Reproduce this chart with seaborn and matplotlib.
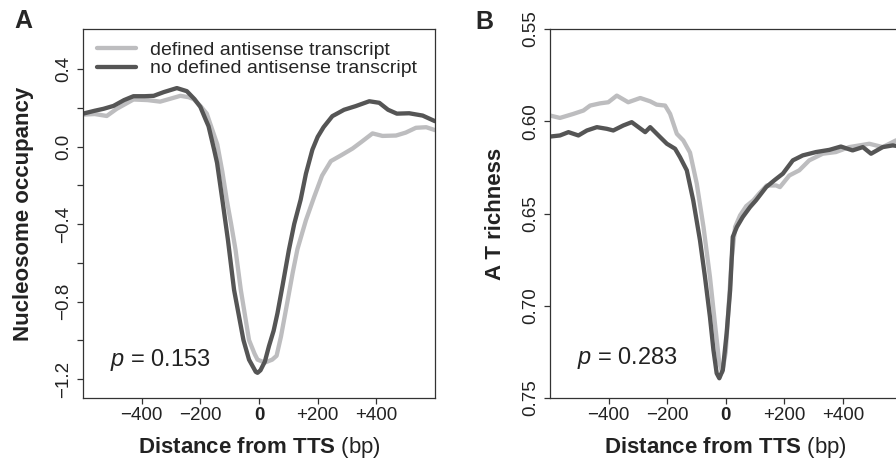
import numpy as np
import pandas as pd
import seaborn as sns
import matplotlib.pyplot as plt

# ---- panel A: nucleosome occupancy around the TTS ----
a_light_x = [-600, -560, -519, -485, -428, -380, -337, -300, -268, -240, -223, -200, -178, -160,
             -142, -125, -110, -95, -80, -62, -34, -15, -5, 20, 45, 60, 75, 97, 115, 131, 160,
             188, 215, 245, 280, 319, 350, 387, 421, 467, 500, 535, 570, 600]
a_light_y = [0.165, 0.168, 0.158, 0.195, 0.243, 0.240, 0.232, 0.248, 0.262, 0.255, 0.245, 0.210,
             0.170, 0.090, 0.010, -0.130, -0.274, -0.400, -0.533, -0.740, -0.999, -1.070, -1.100,
             -1.115, -1.100, -1.080, -0.980, -0.800, -0.650, -0.530, -0.380, -0.260, -0.150,
             -0.075, -0.045, -0.010, 0.025, 0.068, 0.055, 0.057, 0.072, 0.097, 0.100, 0.085]

a_dark_x = [-600, -560, -530, -496, -460, -428, -390, -359, -325, -280, -246, -220, -200, -182,
            -172, -153, -143, -125, -106, -85, -53, -34, -11, -5, 5, 20, 34, 50, 63, 80, 102,
            120, 142, 160, 182, 200, 220, 250, 290, 330, 376, 410, 440, 470, 512, 558, 600]
a_dark_y = [0.170, 0.185, 0.195, 0.210, 0.240, 0.260, 0.260, 0.262, 0.281, 0.302, 0.286, 0.245,
            0.205, 0.140, 0.105, -0.016, -0.084, -0.274, -0.481, -0.740, -0.999, -1.100, -1.163,
            -1.168, -1.155, -1.110, -1.030, -0.950, -0.860, -0.720, -0.533, -0.400, -0.274,
            -0.140, -0.016, 0.050, 0.100, 0.157, 0.190, 0.209, 0.234, 0.226, 0.190, 0.170,
            0.172, 0.160, 0.131]

# ---- panel B: AT richness around the TTS ----
b_light_x = [-600, -566, -520, -486, -463, -429, -401, -372, -333, -292, -258, -236, -207, -190,
             -167, -145, -122, -99, -76, -54, -37, -22, -12, 0, 10, 20, 32, 49, 70, 94, 115, 140,
             172, 185, 217, 251, 285, 331, 376, 422, 490, 536, 581, 600]
b_light_y = [0.5969, 0.5982, 0.5960, 0.5942, 0.5915, 0.5903, 0.5897, 0.5861, 0.5897, 0.5874,
             0.5892, 0.5910, 0.5915, 0.5960, 0.6068, 0.6104, 0.6170, 0.6338, 0.6573, 0.6843,
             0.7095, 0.7311, 0.7360, 0.7250, 0.7000, 0.6750, 0.6573, 0.6510, 0.6460, 0.6429,
             0.6390, 0.6348, 0.6348, 0.6357, 0.6294, 0.6266, 0.6212, 0.6176, 0.6167, 0.6140,
             0.6122, 0.6140, 0.6104, 0.6100]

b_dark_x = [-600, -566, -537, -503, -474, -440, -406, -384, -350, -321, -298, -275, -258, -224,
            -201, -173, -156, -133, -111, -88, -71, -54, -42, -31, -22, -10, 3, 15, 24, 38, 58,
            83, 103, 138, 166, 195, 229, 263, 308, 354, 393, 433, 468, 496, 536, 570, 600]
b_dark_y = [0.6083, 0.6077, 0.6059, 0.6077, 0.6050, 0.6032, 0.6041, 0.6050, 0.6023, 0.6005,
            0.6032, 0.6059, 0.6032, 0.6086, 0.6122, 0.6149, 0.6195, 0.6266, 0.6429, 0.6645,
            0.6843, 0.7060, 0.7240, 0.7366, 0.7393, 0.7348, 0.7150, 0.6915, 0.6627, 0.6573,
            0.6519, 0.6465, 0.6429, 0.6357, 0.6320, 0.6284, 0.6212, 0.6185, 0.6167, 0.6155,
            0.6137, 0.6158, 0.6140, 0.6176, 0.6140, 0.6131, 0.6137]

groups = ["defined antisense transcript", "no defined antisense transcript"]
colors = {groups[0]: "#bdbdbf", groups[1]: "#555555"}

x_ticks = [-400, -200, 0, 200, 400]
x_labels = ["\u2212400", "\u2212200", "0", "+200", "+400"]
a_yticks = [-1.2, -1.0, -0.8, -0.6, -0.4, -0.2, 0.0, 0.2, 0.4]
a_ylabels = ["\u22121.2", "", "\u22120.8", "", "\u22120.4", "", "0.0", "", "0.4"]
b_yticks = [0.55, 0.60, 0.65, 0.70, 0.75]
b_ylabels = ["0.55", "0.60", "0.65", "0.70", "0.75"]


def long_df(lx, ly, dx, dy):
    d1 = pd.DataFrame({"pos": lx, "value": ly, "group": groups[0]})
    d2 = pd.DataFrame({"pos": dx, "value": dy, "group": groups[1]})
    return pd.concat([d1, d2], ignore_index=True)


df_a = long_df(a_light_x, a_light_y, a_dark_x, a_dark_y)
df_b = long_df(b_light_x, b_light_y, b_dark_x, b_dark_y)

sns.set_style("ticks")
plt.rcParams["font.family"] = ["Liberation Sans", "DejaVu Sans"]
plt.rcParams["mathtext.fontset"] = "custom"
plt.rcParams["mathtext.rm"] = "Liberation Sans"
plt.rcParams["mathtext.bf"] = "Liberation Sans:bold"
plt.rcParams["mathtext.it"] = "Liberation Sans:italic"

W, H = 896, 461
fig = plt.figure(figsize=(W / 100, H / 100), dpi=100)
axA = fig.add_axes([83 / W, 1 - 398 / H, 352 / W, 369 / H])
axB = fig.add_axes([550 / W, 1 - 398 / H, 351.5 / W, 369 / H])

for ax, df in [(axA, df_a), (axB, df_b)]:
    sns.lineplot(data=df, x="pos", y="value", hue="group", hue_order=groups,
                 palette=colors, linewidth=3.1, estimator=None, ax=ax,
                 solid_joinstyle="round", solid_capstyle="round")
    ax.set_xlim(-600, 600)
    ax.set_xticks(x_ticks)
    ax.set_xticklabels(x_labels)
    ax.get_xticklabels()[2].set_fontweight("bold")
    for s in ax.spines.values():
        s.set_visible(True)
        s.set_color("#333333")
        s.set_linewidth(0.9)
    ax.tick_params(axis="both", length=4.5, width=0.9, color="#333333",
                   labelsize=13.5, labelcolor="#222222")
    ax.tick_params(axis="x", pad=2)
    ax.tick_params(axis="y", pad=3.5)
    ax.set_xlabel(r"$\mathbf{Distance\ from\ TTS}$ (bp)", fontsize=16, color="#222222")
    ax.xaxis.set_label_coords(0.5, -0.10)

axA.set_ylim(-1.298, 0.607)
axA.set_yticks(a_yticks)
axA.set_yticklabels(a_ylabels)
axA.set_ylabel("Nucleosome occupancy", fontsize=16, fontweight="bold", color="#222222")
axA.yaxis.set_label_coords(-0.1406, 0.5)

axB.set_ylim(0.75, 0.55)
axB.set_yticks(b_yticks)
axB.set_yticklabels(b_ylabels)
axB.set_ylabel("A T richness", fontsize=16, fontweight="bold", color="#222222")
axB.yaxis.set_label_coords(-0.124, 0.5)

for ax in (axA, axB):
    plt.setp(ax.get_yticklabels(), rotation=90, va="center")

axB.get_legend().remove()
handles, labels = axA.get_legend_handles_labels()
axA.legend(handles, labels, loc="upper left", bbox_to_anchor=(14 / 352, 0.967),
           frameon=False, fontsize=14, handlelength=2.0, handletextpad=0.75,
           labelspacing=0.05, borderpad=0, borderaxespad=0)

axA.text(0.077, 0.087, "$p$ = 0.153", transform=axA.transAxes, fontsize=17,
         va="baseline", ha="left", color="#222222")
axB.text(0.076, 0.092, "$p$ = 0.283", transform=axB.transAxes, fontsize=17,
         va="baseline", ha="left", color="#222222")

fig.text(14 / W, 1 - 28 / H, "A", fontsize=18, fontweight="bold", va="baseline", ha="left")
fig.text(475 / W, 1 - 29 / H, "B", fontsize=18, fontweight="bold", va="baseline", ha="left")

fig.savefig("out.png", dpi=100)
